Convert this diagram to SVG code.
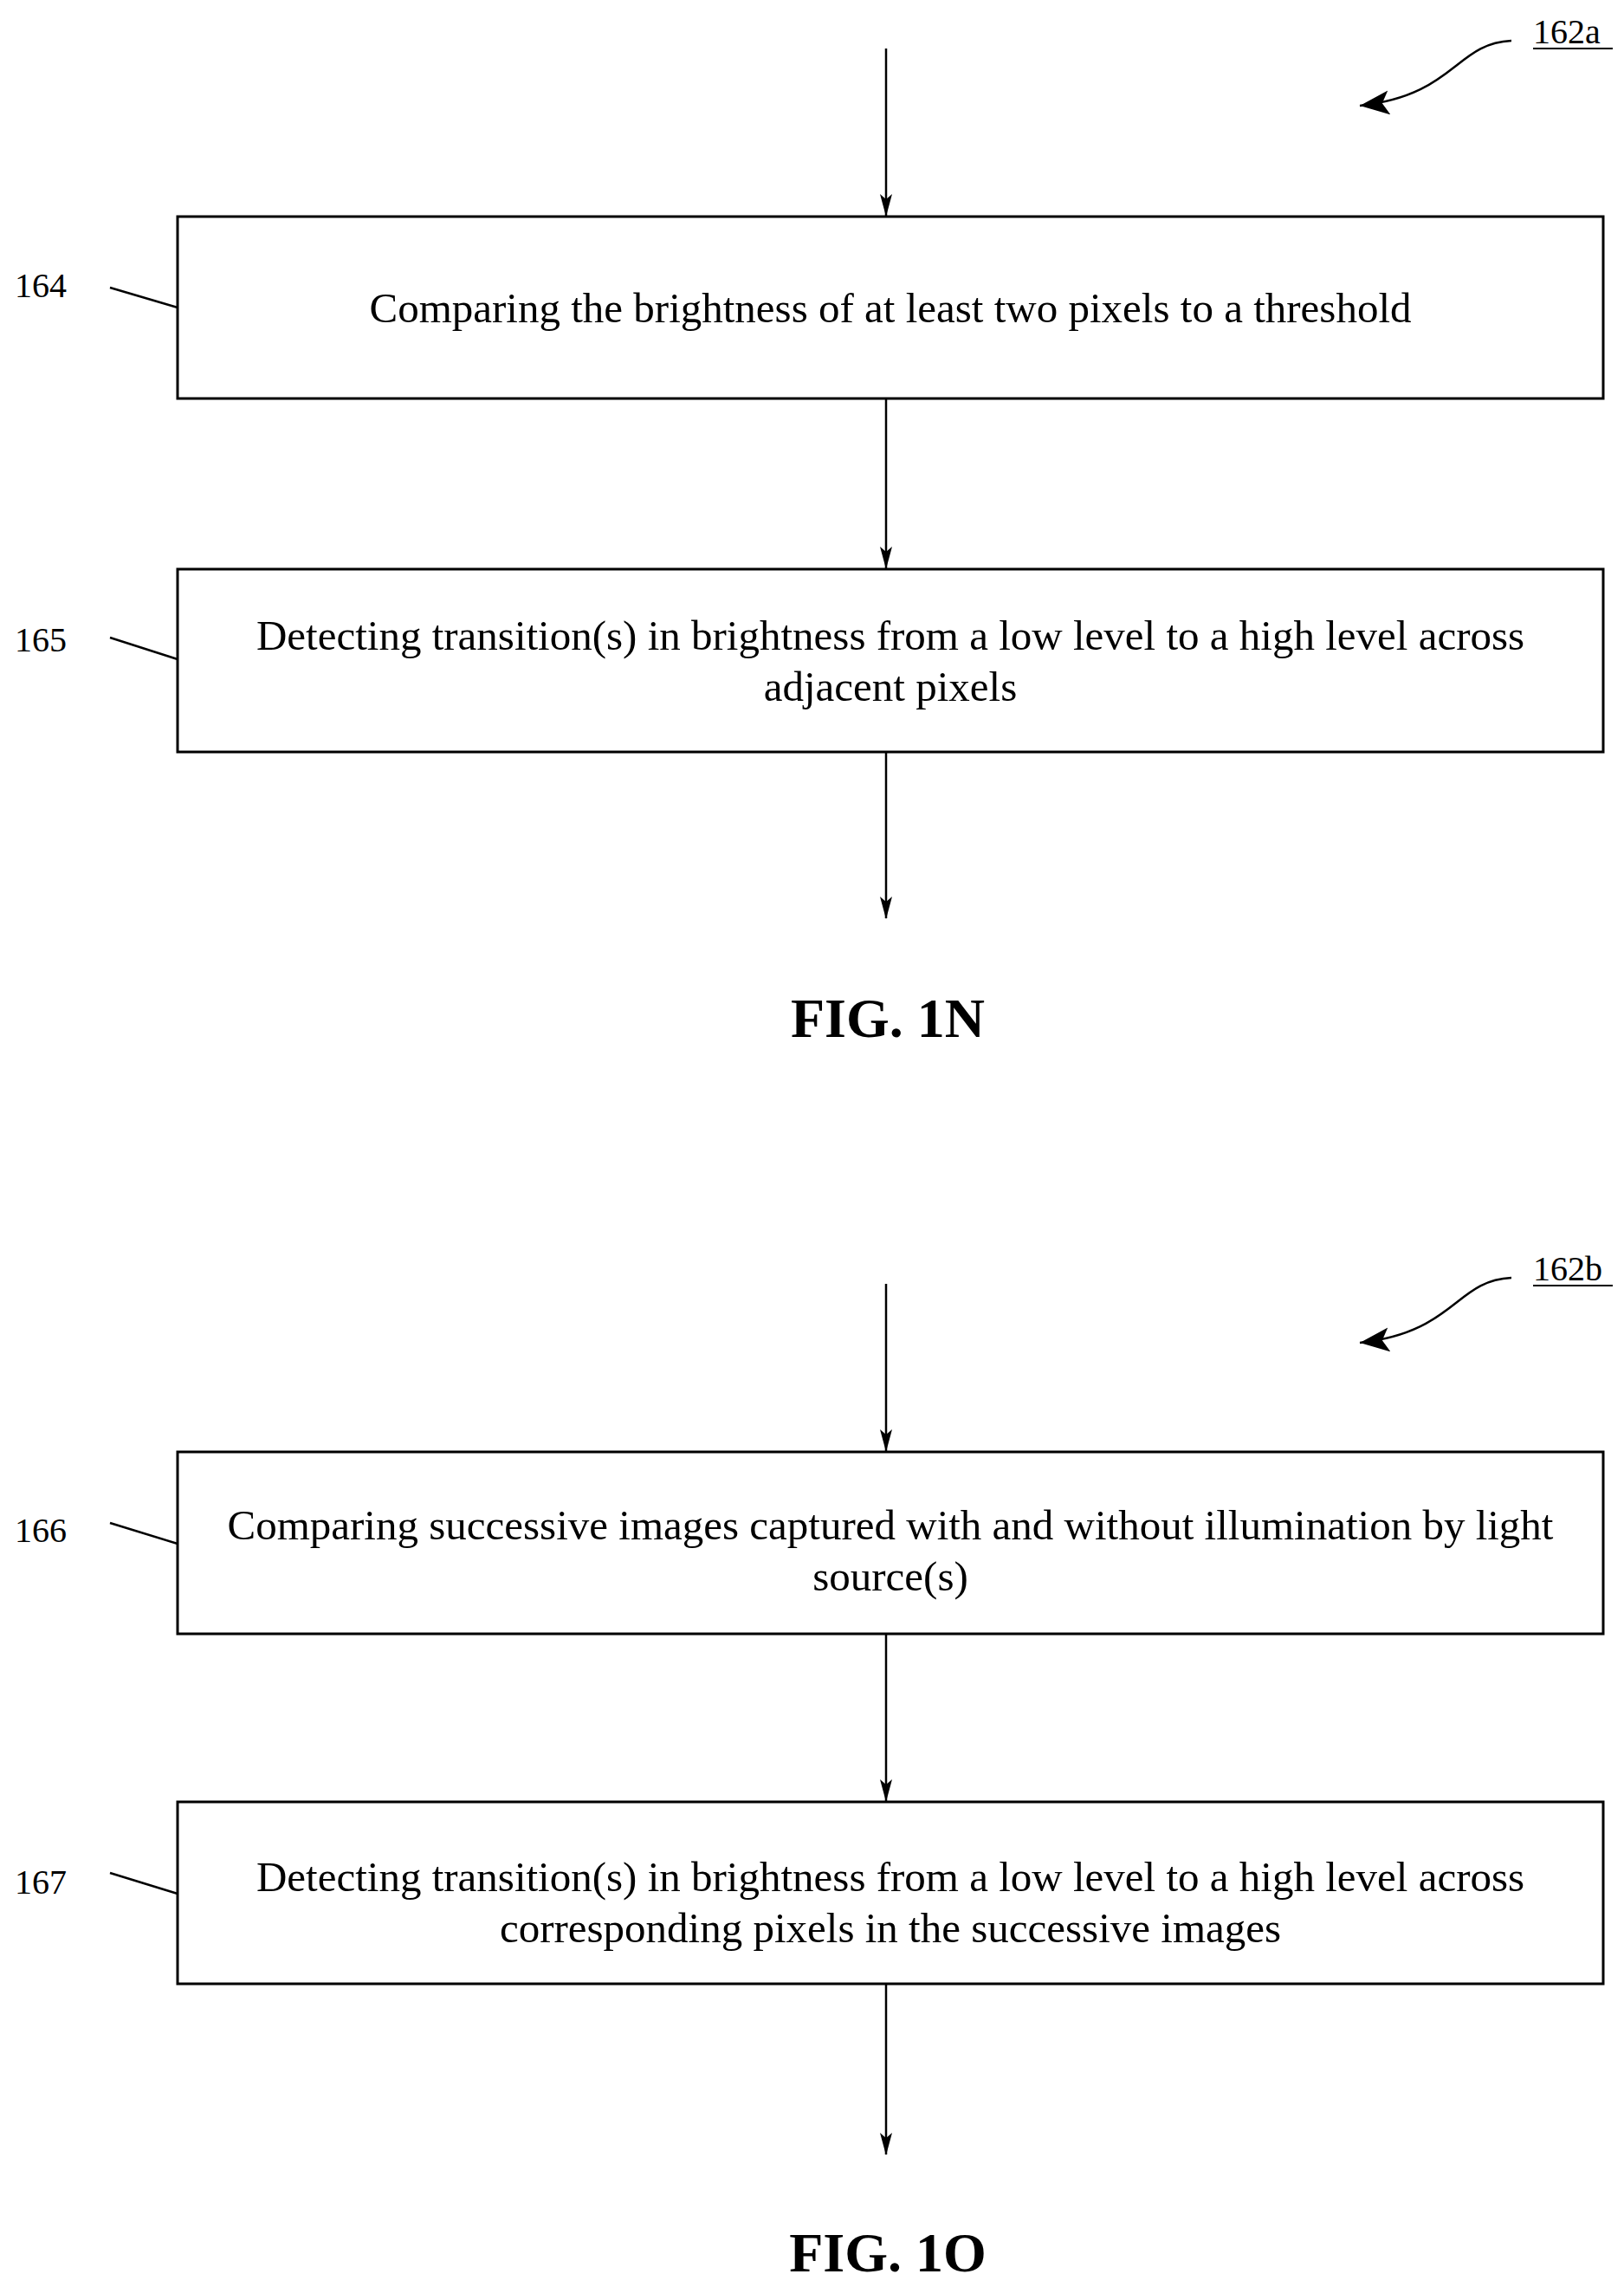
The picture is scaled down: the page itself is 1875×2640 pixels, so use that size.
<svg xmlns="http://www.w3.org/2000/svg" width="1875" height="2640" viewBox="0 0 1875 2640">
<style>
.b{fill:#fff;stroke:#000;stroke-width:3}
.t{font-family:"Liberation Serif",serif;font-size:49px;text-anchor:middle}
.l{font-family:"Liberation Serif",serif;font-size:40px}
.f{font-family:"Liberation Serif",serif;font-size:64px;font-weight:bold;text-anchor:middle}
.c{stroke:#000;stroke-width:2.5;fill:none}
</style>
<defs><marker id="a" markerWidth="26" markerHeight="14" refX="25" refY="7" orient="auto" markerUnits="userSpaceOnUse"><path d="M0,0 L26,7 L0,14 L6,7 Z" fill="#000"/></marker>
<marker id="h" markerWidth="36" markerHeight="28" refX="34" refY="14" orient="auto" markerUnits="userSpaceOnUse"><path d="M0,0 L34,14 L0,28 L8,14 Z" fill="#000"/></marker></defs>
<rect width="1875" height="2640" fill="#fff"/>
<g id="connectors">
<path class="c" d="M1023,56 V249" marker-end="url(#a)"/>
<path class="c" d="M1023,460 V656" marker-end="url(#a)"/>
<path class="c" d="M1023,868 V1060" marker-end="url(#a)"/>
<path class="c" d="M1023,1482 V1675" marker-end="url(#a)"/>
<path class="c" d="M1023,1886 V2079" marker-end="url(#a)"/>
<path class="c" d="M1023,2290 V2487" marker-end="url(#a)"/>
<path class="c" d="M1745,47 C1680,50 1680,110 1570,122" marker-end="url(#h)"/>
<path class="c" d="M1745,1475 C1680,1478 1680,1538 1570,1550" marker-end="url(#h)"/>
<path class="c" d="M127,332 L205,355"/>
<path class="c" d="M127,736 L205,761"/>
<path class="c" d="M127,1758 L205,1782"/>
<path class="c" d="M127,2162 L205,2186"/>
</g>
<g id="n162a"><text class="l" x="1770" y="50">162a</text><line x1="1770" y1="56" x2="1862" y2="56" stroke="#000" stroke-width="2"/></g>
<g id="n164"><rect class="b" x="205" y="250" width="1646" height="210"/><text class="t" x="1028" y="372">Comparing the brightness of at least two pixels to a threshold</text><text class="l" x="17" y="343">164</text></g>
<g id="n165"><rect class="b" x="205" y="657" width="1646" height="211"/><text class="t" x="1028" y="750">Detecting transition(s) in brightness from a low level to a high level across</text><text class="t" x="1028" y="809">adjacent pixels</text><text class="l" x="17" y="752">165</text></g>
<text class="f" x="1025" y="1197">FIG. 1N</text>
<g id="n162b"><text class="l" x="1770" y="1478">162b</text><line x1="1770" y1="1484" x2="1862" y2="1484" stroke="#000" stroke-width="2"/></g>
<g id="n166"><rect class="b" x="205" y="1676" width="1646" height="210"/><text class="t" x="1028" y="1777">Comparing successive images captured with and without illumination by light</text><text class="t" x="1028" y="1836">source(s)</text><text class="l" x="17" y="1780">166</text></g>
<g id="n167"><rect class="b" x="205" y="2080" width="1646" height="210"/><text class="t" x="1028" y="2183">Detecting transition(s) in brightness from a low level to a high level across</text><text class="t" x="1028" y="2242">corresponding pixels in the successive images</text><text class="l" x="17" y="2186">167</text></g>
<text class="f" x="1025" y="2622">FIG. 1O</text>
</svg>
